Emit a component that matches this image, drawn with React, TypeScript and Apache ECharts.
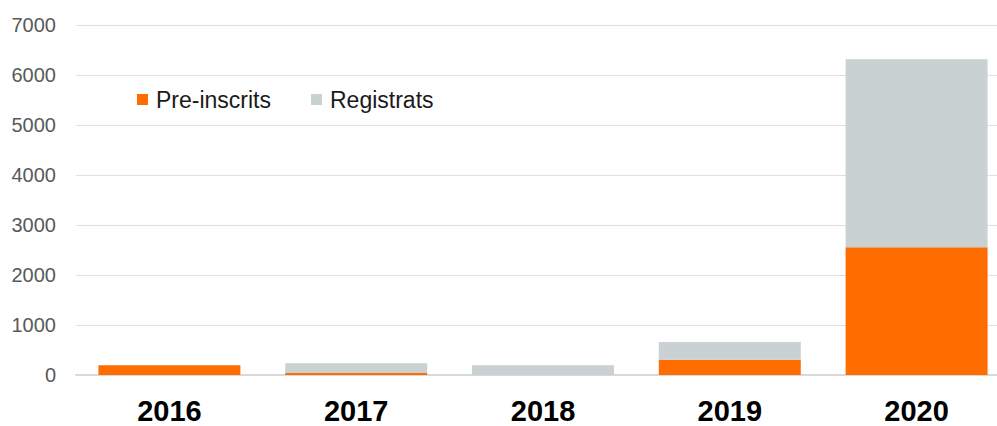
import React, { useEffect, useRef } from "react";
import * as echarts from "echarts";

const categories = ["2016", "2017", "2018", "2019", "2020"];
const preInscrits = [195, 40, 0, 305, 2555];
const registrats = [0, 195, 195, 355, 3760];
const yTicks = [0, 1000, 2000, 3000, 4000, 5000, 6000, 7000];

export default function App() {
  const ref = useRef<HTMLDivElement>(null);
  useEffect(() => {
    const chart = echarts.init(ref.current!, null, { renderer: "svg" });
    chart.setOption({
      animation: false,
      grid: { left: 76, top: 25, width: 934, height: 350, containLabel: false, outerBoundsMode: "none" },
      legend: {
        left: 137,
        top: 88,
        padding: 0,
        itemWidth: 11,
        itemHeight: 11,
        itemGap: 40,
        icon: "rect",
        textStyle: {
          fontFamily: "Liberation Sans, Arial, sans-serif",
          fontSize: 23,
          color: "#1a1a1a",
          padding: [0, 0, 0, 3],
        },
        data: ["Pre-inscrits", "Registrats"],
      },
      xAxis: {
        type: "category",
        data: categories,
        axisLine: { lineStyle: { color: "#d9d9d9", width: 2 } },
        axisTick: { show: false },
        axisLabel: {
          margin: 21,
          fontFamily: "Liberation Sans, Arial, sans-serif",
          fontSize: 29,
          lineHeight: 29,
          fontWeight: "bold",
          color: "#000",
        },
      },
      yAxis: {
        type: "value",
        min: yTicks[0],
        max: yTicks[yTicks.length - 1],
        interval: 1000,
        axisLine: { show: false },
        axisTick: { show: false },
        splitLine: { lineStyle: { color: "#e0e0e0", width: 1 } },
        axisLabel: {
          margin: 20,
          fontFamily: "Liberation Sans, Arial, sans-serif",
          fontSize: 20,
          color: "#595959",
          formatter: (v: number) => String(v),
        },
      },
      series: [
        {
          name: "Pre-inscrits",
          type: "bar",
          stack: "total",
          data: preInscrits.map((v) => (v === 0 ? null : v)),
          barWidth: "76%",
          itemStyle: { color: "#FF6D00" },
        },
        {
          name: "Registrats",
          type: "bar",
          stack: "total",
          data: registrats.map((v) => (v === 0 ? null : v)),
          barWidth: "76%",
          itemStyle: { color: "#C9D1D3" },
        },
      ],
    });
    return () => chart.dispose();
  }, []);
  return (
    <div
      ref={ref}
      style={{ position: "fixed", left: 0, top: 0, width: 997, height: 426, background: "#fff" }}
    />
  );
}
